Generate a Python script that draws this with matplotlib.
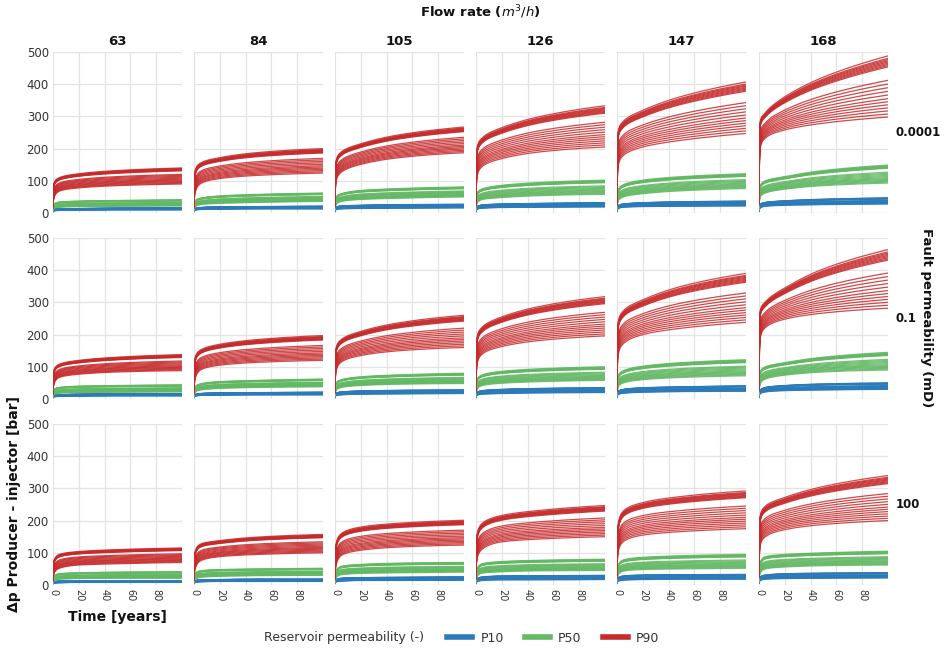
import numpy as np
import matplotlib
matplotlib.use("Agg")
import matplotlib.pyplot as plt
from matplotlib.lines import Line2D

plt.rcParams['font.family'] = ['DejaVu Sans']

# ---------------- data ----------------
FLOW_RATES = ["63", "84", "105", "126", "147", "168"]
FAULT_PERM = ["0.0001", "0.1", "100"]
SERIES = ["P10", "P50", "P90"]
T_KEYS = [0, 1, 5, 20, 50, 100]          # years at which envelope values were read
X_TICKS = [0, 20, 40, 60, 80]
Y_TICKS = [0, 100, 200, 300, 400, 500]

# envelope values [row][col] -> values at T_KEYS
RED_HIGH = [
    [[30, 95, 110, 122, 132, 140], [35, 133, 155, 172, 188, 200], [40, 164, 190, 215, 243, 267],
     [45, 205, 234, 265, 300, 333], [50, 255, 285, 319, 362, 407], [55, 285, 312, 361, 422, 488]],
    [[30, 92, 108, 120, 130, 138], [35, 130, 152, 170, 185, 197], [40, 160, 185, 210, 237, 260],
     [45, 195, 224, 255, 288, 318], [50, 240, 274, 308, 350, 390], [55, 275, 302, 345, 404, 464]],
    [[25, 78, 95, 104, 110, 115], [30, 105, 127, 138, 149, 157], [35, 130, 160, 180, 192, 201],
     [40, 160, 192, 216, 232, 247], [45, 190, 230, 256, 275, 292], [50, 216, 245, 272, 306, 340]],
]
RED_LOW = [
    [[12, 50, 68, 78, 85, 90], [14, 65, 91, 107, 117, 124], [16, 102, 127, 151, 172, 187],
     [18, 117, 145, 169, 190, 205], [20, 148, 179, 205, 226, 247], [22, 202, 233, 258, 279, 298]],
    [[12, 50, 67, 77, 84, 88], [14, 65, 90, 105, 114, 120], [16, 90, 115, 135, 150, 160],
     [18, 112, 140, 163, 182, 196], [20, 140, 172, 200, 220, 238], [22, 190, 222, 248, 267, 282]],
    [[10, 38, 52, 62, 66, 70], [12, 52, 75, 88, 95, 100], [14, 65, 92, 108, 118, 124],
     [16, 85, 112, 134, 143, 150], [18, 105, 135, 155, 166, 175], [20, 124, 150, 172, 188, 200]],
]
GREEN_HIGH = [
    [[8, 28, 34, 37, 39, 41], [9, 38, 46, 53, 58, 62], [10, 50, 60, 70, 76, 81],
     [12, 62, 75, 86, 95, 102], [13, 72, 88, 102, 113, 122], [15, 85, 100, 113, 132, 149]],
    [[8, 30, 36, 40, 42, 44], [9, 38, 47, 54, 58, 62], [10, 50, 60, 69, 75, 80],
     [12, 62, 75, 86, 94, 100], [13, 72, 88, 102, 113, 122], [15, 85, 100, 113, 130, 145]],
    [[8, 28, 35, 38, 40, 41], [9, 36, 44, 48, 50, 52], [10, 45, 58, 64, 68, 70],
     [11, 52, 66, 73, 77, 80], [12, 62, 78, 86, 91, 95], [14, 70, 88, 95, 100, 105]],
]
GREEN_LOW = [
    [[4, 15, 18, 20, 21, 22], [5, 20, 26, 30, 33, 36], [6, 28, 36, 42, 46, 50],
     [6, 32, 42, 48, 54, 58], [7, 38, 50, 60, 69, 76], [8, 50, 62, 74, 85, 93]],
    [[4, 15, 18, 20, 21, 22], [5, 22, 28, 33, 36, 38], [6, 28, 36, 42, 46, 48],
     [6, 32, 42, 49, 54, 58], [7, 38, 50, 60, 67, 72], [8, 48, 62, 74, 84, 90]],
    [[4, 14, 18, 20, 21, 21], [5, 18, 24, 27, 29, 30], [5, 24, 32, 36, 38, 40],
     [6, 28, 37, 41, 44, 45], [6, 32, 43, 48, 50, 52], [7, 38, 50, 56, 60, 62]],
]
BLUE_HIGH = [
    [[4, 11, 13, 14, 15, 16], [5, 14, 17, 19, 20, 21], [5, 18, 22, 24, 26, 27],
     [6, 20, 25, 28, 30, 32], [6, 23, 28, 32, 35, 37], [7, 27, 33, 38, 43, 47]],
    [[4, 11, 13, 15, 16, 16], [5, 14, 17, 19, 20, 21], [5, 18, 22, 25, 27, 28],
     [6, 21, 26, 30, 33, 35], [6, 24, 30, 35, 38, 41], [7, 28, 36, 42, 47, 50]],
    [[4, 10, 12, 12, 12, 12], [5, 13, 16, 17, 18, 18], [5, 17, 21, 23, 24, 25],
     [6, 20, 25, 28, 29, 30], [6, 22, 28, 31, 32, 33], [7, 25, 31, 35, 37, 38]],
]
BLUE_LOW = [
    [[3, 7, 8, 9, 10, 10], [3, 9, 11, 12, 13, 13], [3, 11, 13, 14, 15, 16],
     [3, 12, 15, 17, 18, 19], [4, 14, 18, 20, 21, 22], [4, 16, 21, 24, 26, 28]],
    [[3, 7, 8, 9, 10, 10], [3, 9, 11, 12, 13, 13], [3, 11, 13, 15, 16, 17],
     [3, 12, 15, 17, 19, 20], [4, 14, 18, 21, 23, 24], [4, 17, 22, 26, 28, 30]],
    [[3, 6, 7, 8, 8, 8], [3, 8, 10, 11, 11, 11], [3, 10, 12, 14, 14, 15],
     [3, 11, 14, 16, 16, 17], [4, 12, 15, 17, 18, 18], [4, 14, 18, 20, 21, 22]],
]
# relative position of each realisation inside its envelope
CURVE_FRACS = [0.0, 0.05, 0.10, 0.15, 0.20, 0.25, 0.30, 0.36, 0.42, 0.48, 0.54, 0.60,
               0.82, 0.84, 0.86, 0.88, 0.90, 0.92, 0.94, 0.96, 1.0]

COLORS = {"P10": "#2b7bba", "P50": "#62b863", "P90": "#c62a2b"}
ENVELOPES = {"P10": (BLUE_LOW, BLUE_HIGH), "P50": (GREEN_LOW, GREEN_HIGH),
             "P90": (RED_LOW, RED_HIGH)}


def pchip(xk, yk, x):
    """Monotone piecewise-cubic curve through the read key points."""
    xk = np.asarray(xk, float)
    yk = np.asarray(yk, float)
    h = np.diff(xk)
    d = np.diff(yk) / h
    n = len(xk)
    m = np.zeros(n)
    for k in range(1, n - 1):
        if d[k - 1] * d[k] > 0:
            w1 = 2 * h[k] + h[k - 1]
            w2 = h[k] + 2 * h[k - 1]
            m[k] = (w1 + w2) / (w1 / d[k - 1] + w2 / d[k])
    m0 = ((2 * h[0] + h[1]) * d[0] - h[0] * d[1]) / (h[0] + h[1])
    m[0] = m0 if np.sign(m0) == np.sign(d[0]) else 0.0
    mn = ((2 * h[-1] + h[-2]) * d[-1] - h[-1] * d[-2]) / (h[-1] + h[-2])
    m[-1] = mn if np.sign(mn) == np.sign(d[-1]) else 0.0
    idx = np.clip(np.searchsorted(xk, x, side="right") - 1, 0, n - 2)
    hh = h[idx]
    s = (x - xk[idx]) / hh
    h00 = 2 * s**3 - 3 * s**2 + 1
    h10 = s**3 - 2 * s**2 + s
    h01 = -2 * s**3 + 3 * s**2
    h11 = s**3 - s**2
    return h00 * yk[idx] + h10 * hh * m[idx] + h01 * yk[idx + 1] + h11 * hh * m[idx + 1]


# ---------------- figure ----------------
W, H = 944, 651
fig = plt.figure(figsize=(W / 100, H / 100), dpi=100)

col_left = [53, 194, 335, 476, 617, 759]
ax_w = 129
row_top = [52, 238, 424]
ax_h = 161

t = np.concatenate([np.linspace(0, 1, 40), np.linspace(1, 100, 300)[1:]])
u_keys = np.sqrt(np.array(T_KEYS, dtype=float))
u = np.sqrt(t)

grid_c = "#e3e3e3"
txt_c = "#333333"

axes = []
for r in range(3):
    for c in range(6):
        ax = fig.add_axes([col_left[c] / W, 1 - (row_top[r] + ax_h) / H, ax_w / W, ax_h / H])
        axes.append(ax)
        for s in SERIES:
            lo_all, hi_all = ENVELOPES[s]
            lo = np.array(lo_all[r][c], dtype=float)
            hi = np.array(hi_all[r][c], dtype=float)
            for f in CURVE_FRACS:
                keys = lo + f * (hi - lo)
                y = pchip(u_keys, keys, u)
                ax.plot(t, y, color=COLORS[s], lw=0.9, alpha=0.85, solid_capstyle="butt")
        ax.set_xlim(0, 100)
        ax.set_ylim(0, 500)
        ax.set_xticks(X_TICKS)
        ax.set_yticks(Y_TICKS)
        ax.grid(True, color=grid_c, lw=0.9)
        ax.set_axisbelow(True)
        for sp in ax.spines.values():
            sp.set_visible(False)
        ax.tick_params(length=0, colors=txt_c, labelsize=8.5, pad=3)
        if c != 0:
            ax.set_yticklabels([])
        if r != 2:
            ax.set_xticklabels([])
        else:
            ax.set_xticklabels([str(v) for v in X_TICKS], rotation=-90, fontsize=7)
        if r == 0:
            ax.set_title(FLOW_RATES[c], fontsize=9.5, fontweight="bold", pad=5, color="#111111")
        if c == 5:
            ax.text(1.06, 0.5, FAULT_PERM[r], transform=ax.transAxes, fontsize=8.5,
                    fontweight="bold", va="center", ha="left", color="#111111")

# axis labels on the bottom-left panel
ax_bl = axes[12]
ax_bl.set_ylabel("Δp Producer - injector [bar]", fontsize=10, fontweight="bold",
                 color="#111111", labelpad=4)
ax_bl.set_xlabel("Time [years]", fontsize=10, fontweight="bold", color="#111111", labelpad=6)

fig.text(480 / W, 1 - 12 / H, r"Flow rate ($m^3/h$)", fontsize=9.5, fontweight="bold",
         ha="center", va="center", color="#111111")
fig.text(927 / W, 1 - 318 / H, "Fault permeability (mD)", fontsize=9.5, fontweight="bold",
         rotation=-90, ha="center", va="center", color="#111111")

fig.text(344 / W, 1 - 638 / H, "Reservoir permeability (-)", fontsize=9, ha="center",
         va="center", color=txt_c)
handles = [Line2D([0], [0], color=COLORS[s], lw=4) for s in SERIES]
fig.legend(handles, SERIES, loc="center left", bbox_to_anchor=(436 / W, 1 - 638 / H), ncol=3,
           frameon=False, fontsize=9, handlelength=2.0, handletextpad=0.65,
           columnspacing=1.7, labelcolor=txt_c)

fig.savefig("out.png", dpi=100)
